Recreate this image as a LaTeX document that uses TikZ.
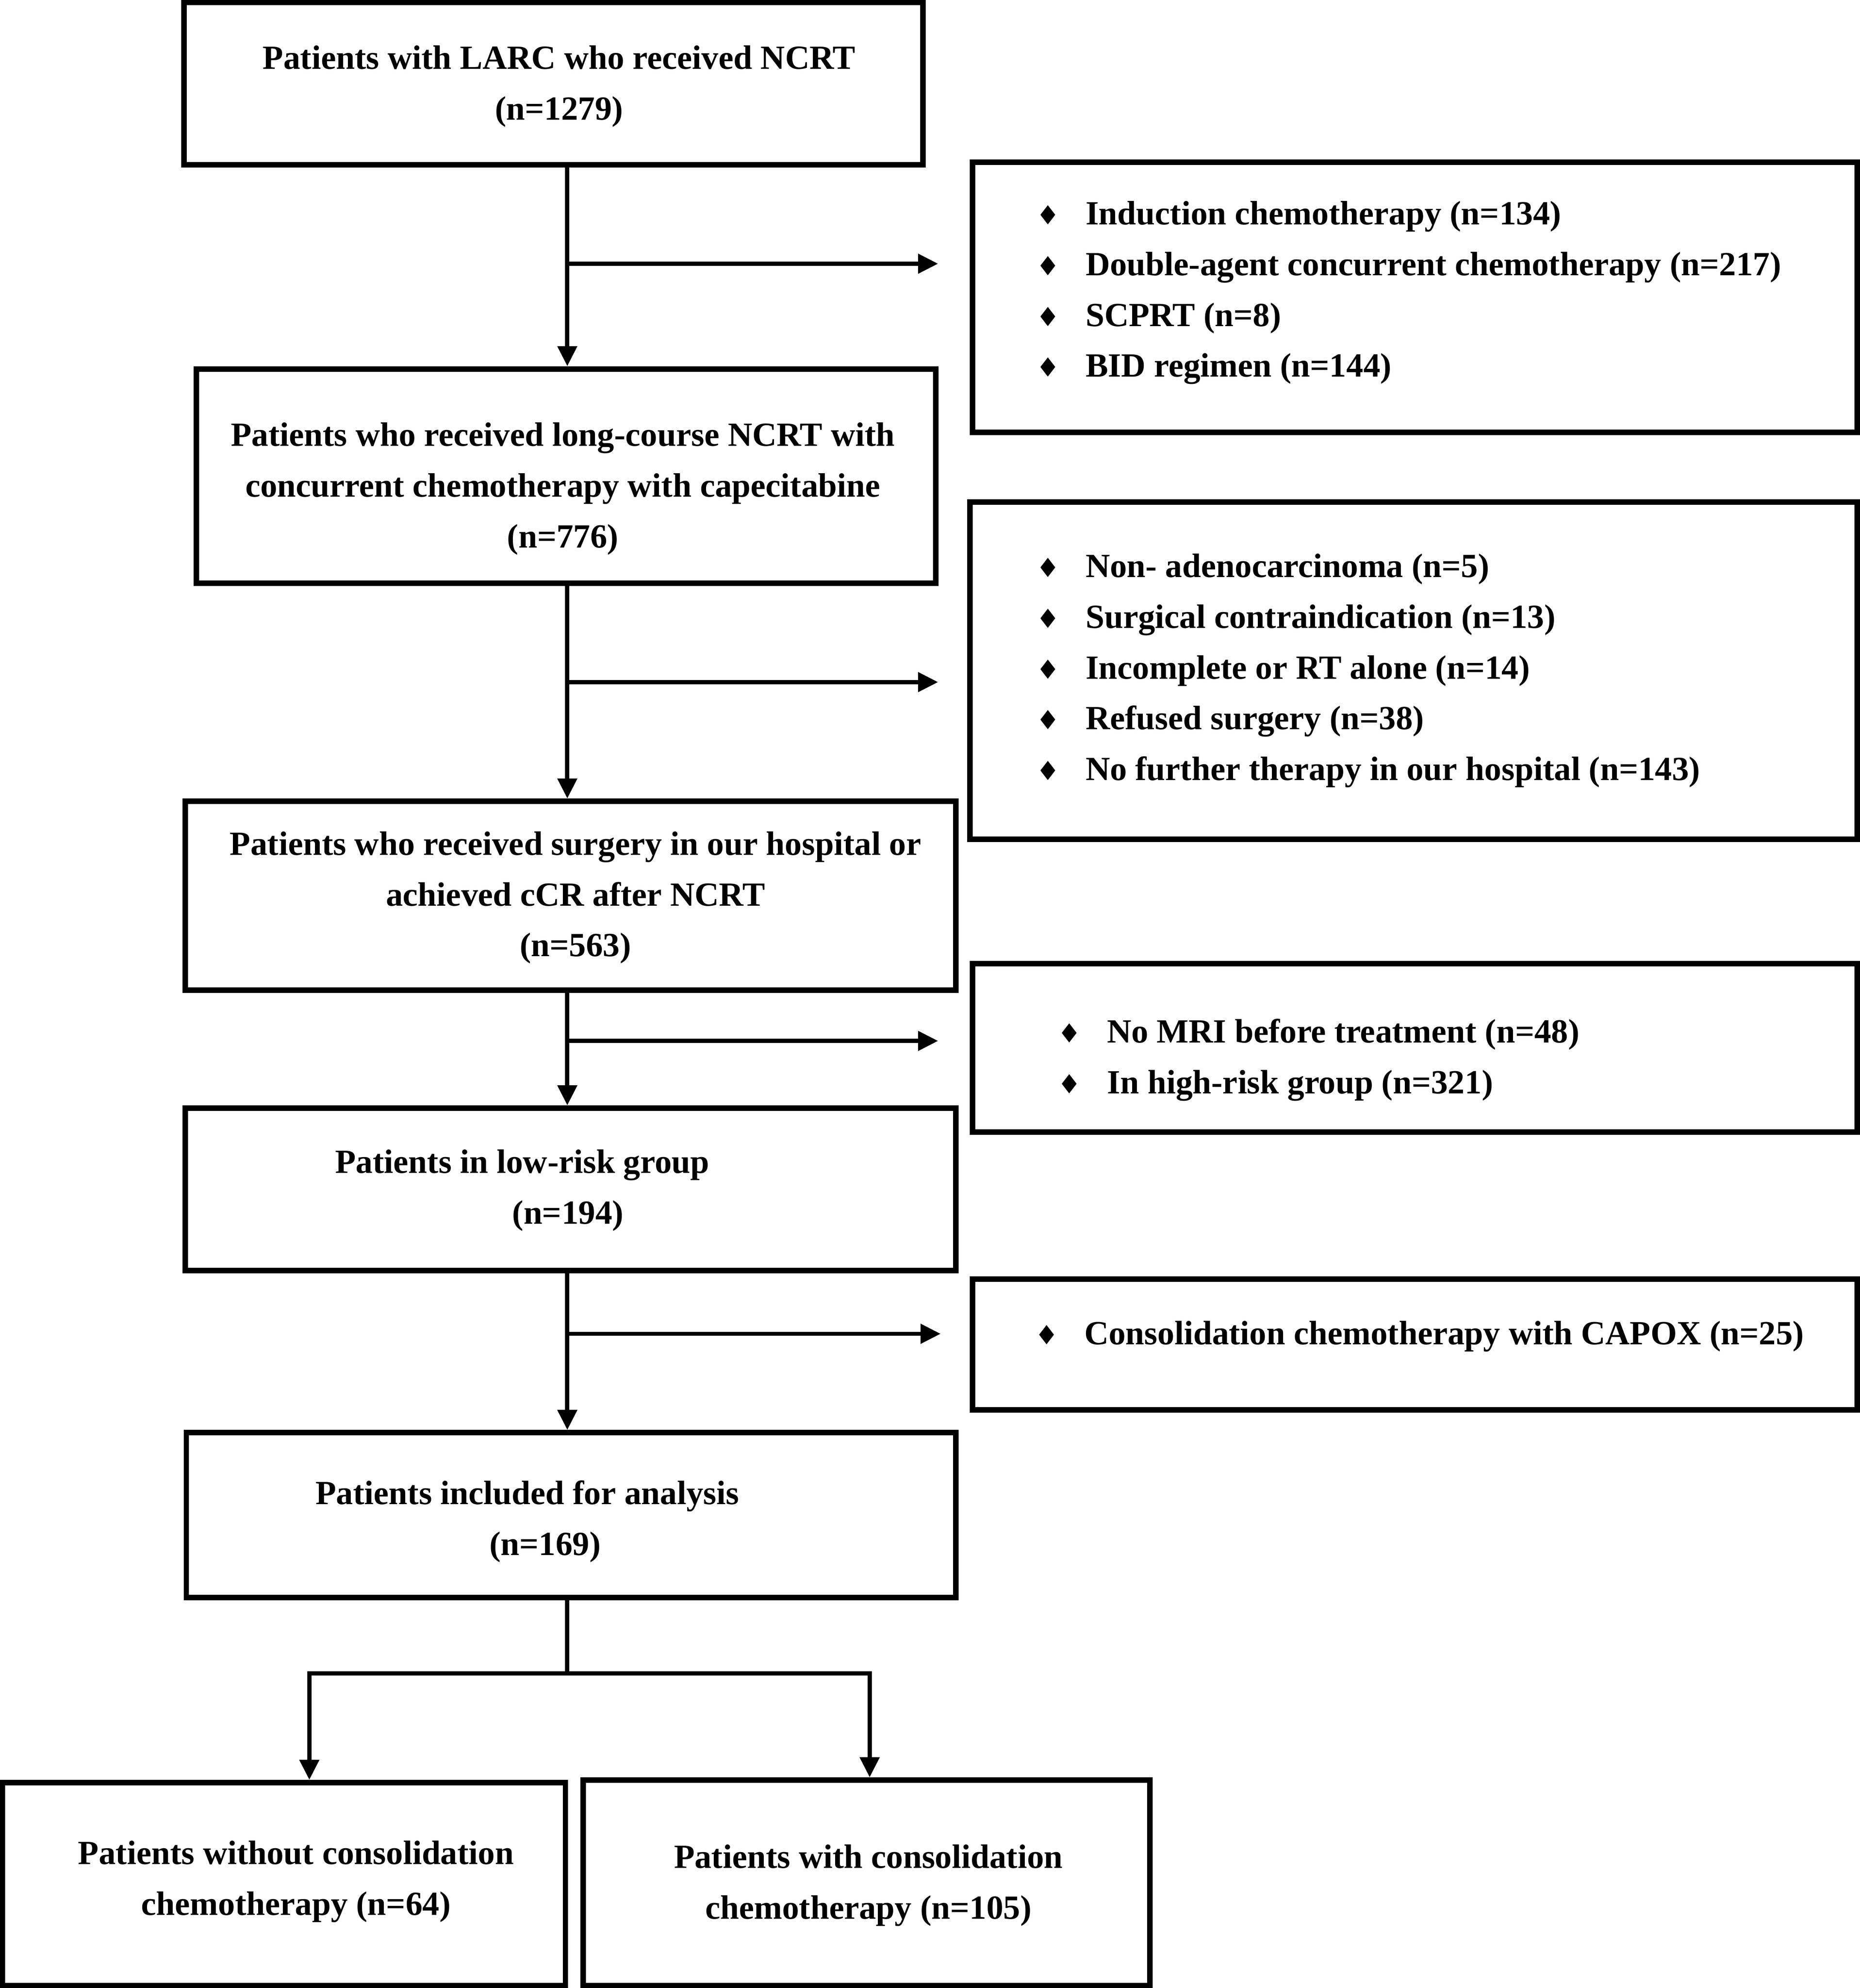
\documentclass[tikz,border=0pt]{standalone}
\usepackage{fontspec}
\setmainfont{Liberation Serif}
\newfontfamily\dejavu{DejaVu Sans}
\usetikzlibrary{arrows.meta}
\newcommand\bul{\makebox[21.6pt][l]{\kern-1.8pt\dejavu\fontsize{12.5}{12.5}\selectfont ♦}}
\begin{document}
\begin{tikzpicture}[x=0.6pt,y=-0.6pt,
  box/.style={draw, line width=2.6pt, inner sep=0pt, rectangle},
  ctext/.style={align=center, font=\bfseries\fontsize{16}{24}\selectfont, inner sep=0pt},
  ltext/.style={align=left, anchor=west, font=\bfseries\fontsize{16}{24}\selectfont, inner sep=0pt},
  conn/.style={line width=2pt, line join=miter},
  arr/.style={conn, -{Triangle[length=9.5pt,width=9pt]}}]

\useasboundingbox (0,0) rectangle (1467,1568);

% main boxes
\node[box, minimum width=349.8pt, minimum height=76.8pt]  (b1) at (436.5,66) {};
\node[box, minimum width=349.8pt, minimum height=101.4pt] (b2) at (446.5,375.5) {};
\node[box, minimum width=364.8pt, minimum height=89.4pt]  (b3) at (450,706.5) {};
\node[box, minimum width=364.8pt, minimum height=76.8pt]  (b4) at (450,938) {};
\node[box, minimum width=364.2pt, minimum height=78pt]    (b5) at (450.5,1195) {};
\node[box, minimum width=266.4pt, minimum height=96pt]    (b6) at (224,1486) {};
\node[box, minimum width=268.2pt, minimum height=97.2pt]  (b7) at (683.5,1485) {};
% exclusion boxes
\node[box, minimum width=418.8pt, minimum height=127.8pt] (rA) at (1116,234.5) {};
\node[box, minimum width=420pt,   minimum height=159.6pt] (rB) at (1115,529) {};
\node[box, minimum width=418.8pt, minimum height=79.8pt]  (rC) at (1116,826.5) {};
\node[box, minimum width=418.8pt, minimum height=61.8pt]  (rD) at (1116,1060.5) {};

% texts
\node[ctext] (t1) at (441,68) {Patients with LARC who received NCRT\\(n=1279)};
\node[ctext] (t2) at (444,385.5) {Patients who received long-course NCRT with\\concurrent chemotherapy with capecitabine\\(n=776)};
\node[ctext] (t3) at (454,708) {Patients who received surgery in our hospital or\\achieved cCR after NCRT\\(n=563)};
\node[ctext] (t4) at (448,939) {Patients in low-risk group\hspace*{43.2pt}\\(n=194)};
\node[ctext] (t5) at (430,1200) {Patients included for analysis\hspace*{16.8pt}\\(n=169)};
\node[ctext] (t6) at (233.5,1484) {Patients without consolidation\\chemotherapy (n=64)};
\node[ctext] (t7) at (685,1487) {Patients with consolidation\\chemotherapy (n=105)};

\node[ltext] (tA) at (820,231) {\bul Induction chemotherapy (n=134)\\\bul Double-agent concurrent chemotherapy (n=217)\\\bul SCPRT (n=8)\\\bul BID regimen (n=144)};
\node[ltext] (tB) at (820,529) {\bul Non- adenocarcinoma (n=5)\\\bul Surgical contraindication (n=13)\\\bul Incomplete or RT alone (n=14)\\\bul Refused surgery (n=38)\\\bul No further therapy in our hospital (n=143)};
\node[ltext] (tC) at (837,836) {\bul No MRI before treatment (n=48)\\\bul In high-risk group (n=321)};
\node[ltext] (tD) at (819,1054) {\bul Consolidation chemotherapy with CAPOX (n=25)};

% connectors
\coordinate (sp) at (447.5,0);
\coordinate (e1) at (740,208);
\coordinate (e2) at (740,538);
\coordinate (e3) at (740,821);
\coordinate (e4) at (742,1052);
\coordinate (sj) at (447.5,1320);
\coordinate (jl) at (244,1320);
\coordinate (jr) at (686,1320);

\draw[arr] (sp |- b1.south) -- (sp |- b2.north);
\draw[arr] (sp |- e1) -- (e1);
\draw[arr] (sp |- b2.south) -- (sp |- b3.north);
\draw[arr] (sp |- e2) -- (e2);
\draw[arr] (sp |- b3.south) -- (sp |- b4.north);
\draw[arr] (sp |- e3) -- (e3);
\draw[arr] (sp |- b4.south) -- (sp |- b5.north);
\draw[arr] (sp |- e4) -- (e4);
\draw[conn] (sp |- b5.south) -- (sj);
\draw[arr] (sj) -- (jl) -- (jl |- b6.north);
\draw[arr] (sj) -- (jr) -- (jr |- b7.north);
\end{tikzpicture}
\end{document}
